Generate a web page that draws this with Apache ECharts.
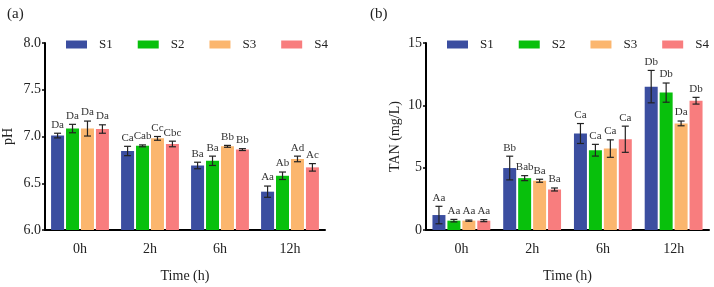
<!DOCTYPE html>
<html>
<head>
<meta charset="utf-8">
<script src="https://cdn.jsdelivr.net/npm/echarts@6/dist/echarts.min.js"></script>
<style>
  html, body { margin: 0; padding: 0; background: #fff; }
  #chart { width: 714px; height: 287px; }
</style>
</head>
<body>
<div id="chart"></div>
<script>
const categories = ["0h", "2h", "6h", "12h"];
const seriesNames = ["S1", "S2", "S3", "S4"];
const colors = ["#3b4ea0", "#08c00c", "#fbb66e", "#f87d7e"];

// (a) pH, mean per time point
const phS1 = [7.01, 6.845, 6.69, 6.41];
const phS2 = [7.085, 6.90, 6.74, 6.58];
const phS3 = [7.085, 6.98, 6.895, 6.76];
const phS4 = [7.08, 6.92, 6.86, 6.67];
const phErrS1 = [0.025, 0.05, 0.035, 0.06];
const phErrS2 = [0.045, 0.01, 0.05, 0.04];
const phErrS3 = [0.08, 0.02, 0.01, 0.03];
const phErrS4 = [0.045, 0.03, 0.01, 0.04];
const phLabS1 = ["Da", "Ca", "Ba", "Aa"];
const phLabS2 = ["Da", "Cab", "Ba", "Ab"];
const phLabS3 = ["Da", "Cc", "Bb", "Ad"];
const phLabS4 = ["Da", "Cbc", "Bb", "Ac"];

// (b) TAN (mg/L)
const tanS1 = [1.2, 4.97, 7.74, 11.5];
const tanS2 = [0.75, 4.16, 6.4, 11.02];
const tanS3 = [0.75, 3.95, 6.53, 8.55];
const tanS4 = [0.75, 3.25, 7.28, 10.37];
const tanErrS1 = [0.7, 0.95, 0.8, 1.3];
const tanErrS2 = [0.1, 0.2, 0.47, 0.77];
const tanErrS3 = [0.05, 0.12, 0.7, 0.19];
const tanErrS4 = [0.08, 0.12, 1.05, 0.27];
const tanLabS1 = ["Aa", "Bb", "Ca", "Db"];
const tanLabS2 = ["Aa", "Bab", "Ca", "Db"];
const tanLabS3 = ["Aa", "Ba", "Ca", "Da"];
const tanLabS4 = ["Aa", "Ba", "Ca", "Db"];

const phTicks = [6.0, 6.5, 7.0, 7.5, 8.0];
const tanTicks = [0, 5, 10, 15];

const panels = [
  { means: [phS1, phS2, phS3, phS4], errs: [phErrS1, phErrS2, phErrS3, phErrS4], labs: [phLabS1, phLabS2, phLabS3, phLabS4] },
  { means: [tanS1, tanS2, tanS3, tanS4], errs: [tanErrS1, tanErrS2, tanErrS3, tanErrS4], labs: [tanLabS1, tanLabS2, tanLabS3, tanLabS4] }
];

const serif = "Liberation Serif";
const barWidth = 13;
const barGap = 0.15;

const series = [];
panels.forEach((p, g) => {
  p.means.forEach((vals, i) => {
    series.push({
      name: seriesNames[i],
      type: "bar",
      xAxisIndex: g,
      yAxisIndex: g,
      barWidth: barWidth,
      barGap: barGap * 100 + "%",
      itemStyle: { color: colors[i] },
      data: vals
    });
  });
});

// error bars + significance letters
panels.forEach((p, g) => {
  p.means.forEach((vals, i) => {
    series.push({
      type: "custom",
      xAxisIndex: g,
      yAxisIndex: g,
      z: 5,
      silent: true,
      data: vals.map((v, k) => [k, v, p.errs[i][k]]),
      renderItem: (params, api) => {
        const off = (i - 1.5) * barWidth * (1 + barGap);
        const m = api.value(1), e = api.value(2);
        const top = api.coord([api.value(0), m + e]);
        const bot = api.coord([api.value(0), m - e]);
        const x = top[0] + off;
        const cap = 3.5;
        const st = { stroke: "#222", lineWidth: 1.2 };
        return {
          type: "group",
          children: [
            { type: "line", shape: { x1: x, y1: top[1], x2: x, y2: bot[1] }, style: st },
            { type: "line", shape: { x1: x - cap, y1: top[1], x2: x + cap, y2: top[1] }, style: st },
            { type: "line", shape: { x1: x - cap, y1: bot[1], x2: x + cap, y2: bot[1] }, style: st },
            {
              type: "text",
              style: {
                x: x, y: top[1] - 3,
                text: p.labs[i][params.dataIndex],
                fill: "#333",
                font: "11px " + serif,
                align: "center",
                verticalAlign: "bottom"
              }
            }
          ]
        };
      }
    });
  });
});

const axisText = { color: "#222", fontFamily: serif, fontSize: 14 };
const legendBase = {
  data: seriesNames, top: 33, width: 300, icon: "rect",
  itemWidth: 21, itemHeight: 8, itemGap: 25,
  textStyle: { fontFamily: serif, fontSize: 13, color: "#222", padding: [0, 0, 0, 7] }
};

const chart = echarts.init(document.getElementById("chart"));
chart.setOption({
  animation: false,
  title: [
    { text: "(a)", left: 2, top: 2, textStyle: { fontFamily: serif, fontSize: 15, fontWeight: "normal", color: "#222" } },
    { text: "(b)", left: 365, top: 2, textStyle: { fontFamily: serif, fontSize: 15, fontWeight: "normal", color: "#222" } }
  ],
  legend: [
    Object.assign({ left: 61 }, legendBase),
    Object.assign({ left: 442 }, legendBase)
  ],
  grid: [
    { left: 45, top: 43, width: 280, bottom: 57, outerBoundsMode: "none" },
    { left: 426, top: 43, width: 283, bottom: 57, outerBoundsMode: "none" }
  ],
  xAxis: [0, 1].map(g => ({
    type: "category",
    gridIndex: g,
    data: categories,
    name: "Time (h)",
    nameLocation: "middle",
    nameGap: 39,
    nameTextStyle: axisText,
    axisLine: { lineStyle: { color: "#000", width: 2 } },
    axisTick: { show: false },
    axisLabel: Object.assign({ margin: 12 }, axisText)
  })),
  yAxis: [
    {
      type: "value", gridIndex: 0, min: phTicks[0], max: phTicks[phTicks.length - 1], interval: 0.5,
      name: "pH", nameLocation: "middle", nameGap: 30, nameTextStyle: axisText,
      axisLine: { show: true, lineStyle: { color: "#000", width: 2 } },
      axisTick: { show: true, length: 3, lineStyle: { color: "#000", width: 1.5 } },
      axisLabel: Object.assign({ margin: 4, formatter: v => v.toFixed(1) }, axisText),
      splitLine: { show: false }
    },
    {
      type: "value", gridIndex: 1, min: tanTicks[0], max: tanTicks[tanTicks.length - 1], interval: 5,
      name: "TAN (mg/L)", nameLocation: "middle", nameGap: 24, nameTextStyle: axisText,
      axisLine: { show: true, lineStyle: { color: "#000", width: 2 } },
      axisTick: { show: true, length: 3, lineStyle: { color: "#000", width: 1.5 } },
      axisLabel: Object.assign({ margin: 4 }, axisText),
      splitLine: { show: false }
    }
  ],
  series: series
});
</script>
</body>
</html>
